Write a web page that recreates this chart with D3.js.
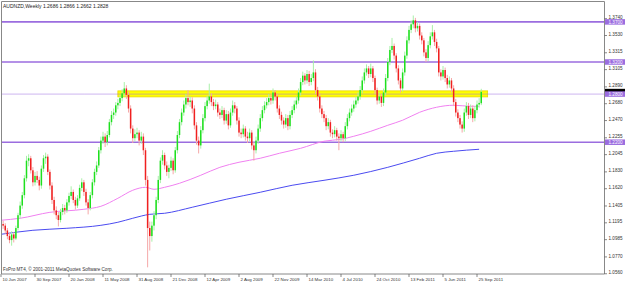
<!DOCTYPE html>
<html>
<head>
<meta charset="utf-8">
<title>AUDNZD weekly</title>
<script src="https://cdn.jsdelivr.net/npm/d3@7"></script>
<style>
body{margin:0;background:#fff;}
svg text{font-family:"Liberation Sans",Arial,sans-serif;}
</style>
</head>
<body>
<div id="chart"></div>
<script>
// weekly bars, first bar = week of 10 Jun 2007, [open, high, low, close]
var candles = [
[1.121,1.126,1.114,1.118],[1.118,1.122,1.112,1.116],[1.116,1.119,1.106,1.110],[1.110,1.113,1.099,1.103],
[1.103,1.107,1.094,1.098],[1.098,1.109,1.091,1.105],[1.105,1.108,1.095,1.100],[1.100,1.116,1.098,1.113],
[1.113,1.132,1.110,1.129],[1.129,1.146,1.125,1.141],[1.141,1.158,1.137,1.154],[1.154,1.179,1.150,1.175],
[1.175,1.203,1.171,1.197],[1.197,1.205,1.190,1.200],[1.200,1.203,1.181,1.185],[1.185,1.189,1.165,1.170],
[1.170,1.183,1.166,1.178],[1.178,1.184,1.169,1.173],[1.173,1.177,1.160,1.166],[1.166,1.191,1.162,1.187],
[1.187,1.204,1.183,1.200],[1.200,1.207,1.193,1.202],[1.202,1.205,1.179,1.183],[1.183,1.186,1.161,1.166],
[1.166,1.170,1.143,1.148],[1.148,1.152,1.130,1.135],[1.135,1.140,1.124,1.129],[1.129,1.133,1.115,1.123],
[1.123,1.137,1.120,1.133],[1.133,1.143,1.129,1.138],[1.138,1.142,1.130,1.135],[1.135,1.149,1.132,1.145],
[1.145,1.157,1.141,1.153],[1.153,1.165,1.149,1.158],[1.158,1.161,1.144,1.148],[1.148,1.152,1.136,1.141],
[1.141,1.154,1.138,1.150],[1.150,1.167,1.147,1.163],[1.163,1.175,1.159,1.170],[1.170,1.173,1.153,1.158],
[1.158,1.162,1.141,1.145],[1.145,1.149,1.130,1.138],[1.138,1.158,1.135,1.154],[1.154,1.174,1.150,1.170],
[1.170,1.187,1.166,1.183],[1.183,1.196,1.179,1.191],[1.191,1.214,1.188,1.210],[1.210,1.227,1.206,1.222],
[1.222,1.233,1.218,1.227],[1.227,1.231,1.214,1.220],[1.220,1.234,1.216,1.229],[1.229,1.249,1.226,1.245],
[1.245,1.259,1.241,1.254],[1.254,1.262,1.249,1.257],[1.257,1.270,1.253,1.266],[1.266,1.274,1.261,1.269],
[1.269,1.279,1.265,1.275],[1.275,1.286,1.271,1.281],[1.281,1.295,1.277,1.287],[1.287,1.291,1.274,1.279],
[1.279,1.283,1.257,1.262],[1.262,1.266,1.231,1.237],[1.237,1.241,1.219,1.225],[1.225,1.236,1.221,1.230],
[1.230,1.238,1.225,1.232],[1.232,1.235,1.216,1.222],[1.222,1.233,1.218,1.227],[1.227,1.231,1.204,1.210],
[1.210,1.213,1.166,1.173],[1.173,1.178,1.064,1.113],[1.113,1.121,1.085,1.103],[1.103,1.121,1.096,1.116],
[1.116,1.134,1.110,1.129],[1.129,1.152,1.124,1.148],[1.148,1.178,1.144,1.173],[1.173,1.201,1.169,1.197],
[1.197,1.210,1.192,1.204],[1.204,1.207,1.186,1.191],[1.191,1.196,1.178,1.183],[1.183,1.192,1.175,1.188],
[1.188,1.202,1.184,1.197],[1.197,1.200,1.180,1.185],[1.185,1.214,1.182,1.210],[1.210,1.234,1.206,1.229],
[1.229,1.249,1.225,1.245],[1.245,1.262,1.241,1.257],[1.257,1.272,1.253,1.267],[1.267,1.280,1.262,1.275],
[1.275,1.285,1.266,1.270],[1.270,1.277,1.264,1.272],[1.272,1.276,1.256,1.262],[1.262,1.266,1.236,1.241],
[1.241,1.245,1.217,1.222],[1.222,1.227,1.206,1.216],[1.216,1.240,1.212,1.235],[1.235,1.255,1.231,1.250],
[1.250,1.270,1.246,1.265],[1.265,1.278,1.261,1.272],[1.272,1.293,1.268,1.277],[1.277,1.281,1.265,1.270],
[1.270,1.274,1.260,1.265],[1.265,1.273,1.261,1.267],[1.267,1.270,1.252,1.257],[1.257,1.262,1.249,1.254],
[1.254,1.265,1.250,1.260],[1.260,1.263,1.242,1.247],[1.247,1.260,1.243,1.255],[1.255,1.259,1.236,1.241],
[1.241,1.262,1.238,1.257],[1.257,1.272,1.253,1.266],[1.266,1.270,1.256,1.262],[1.262,1.265,1.242,1.247],
[1.247,1.251,1.227,1.232],[1.232,1.237,1.225,1.230],[1.230,1.242,1.226,1.237],[1.237,1.240,1.222,1.227],
[1.227,1.233,1.219,1.225],[1.225,1.237,1.221,1.232],[1.232,1.235,1.211,1.216],[1.216,1.220,1.197,1.210],
[1.210,1.227,1.206,1.222],[1.222,1.242,1.218,1.237],[1.237,1.255,1.233,1.250],[1.250,1.265,1.246,1.260],
[1.260,1.271,1.256,1.266],[1.266,1.275,1.262,1.270],[1.270,1.280,1.266,1.275],[1.275,1.279,1.267,1.272],
[1.272,1.287,1.268,1.282],[1.282,1.285,1.272,1.277],[1.277,1.280,1.257,1.262],[1.262,1.266,1.249,1.254],
[1.254,1.258,1.242,1.247],[1.247,1.251,1.237,1.242],[1.242,1.255,1.238,1.250],[1.250,1.254,1.235,1.240],
[1.240,1.259,1.236,1.254],[1.254,1.265,1.250,1.260],[1.260,1.272,1.256,1.267],[1.267,1.277,1.262,1.272],
[1.272,1.287,1.268,1.282],[1.282,1.300,1.278,1.295],[1.295,1.308,1.291,1.303],[1.303,1.306,1.292,1.297],
[1.297,1.310,1.293,1.305],[1.305,1.309,1.290,1.295],[1.295,1.305,1.291,1.300],[1.300,1.322,1.296,1.307],
[1.307,1.311,1.280,1.285],[1.285,1.289,1.272,1.277],[1.277,1.281,1.257,1.262],[1.262,1.266,1.250,1.255],
[1.255,1.259,1.245,1.250],[1.250,1.254,1.235,1.240],[1.240,1.250,1.236,1.245],[1.245,1.248,1.227,1.232],
[1.232,1.236,1.225,1.230],[1.230,1.240,1.226,1.235],[1.235,1.238,1.222,1.227],[1.227,1.231,1.210,1.225],
[1.225,1.235,1.221,1.230],[1.230,1.233,1.220,1.225],[1.225,1.245,1.221,1.240],[1.240,1.255,1.236,1.250],
[1.250,1.262,1.246,1.257],[1.257,1.267,1.253,1.262],[1.262,1.272,1.258,1.267],[1.267,1.277,1.263,1.272],
[1.272,1.282,1.268,1.277],[1.277,1.290,1.273,1.285],[1.285,1.302,1.281,1.297],[1.297,1.312,1.293,1.307],
[1.307,1.317,1.303,1.312],[1.312,1.315,1.300,1.305],[1.305,1.318,1.301,1.312],[1.312,1.315,1.295,1.300],
[1.300,1.303,1.280,1.285],[1.285,1.288,1.267,1.272],[1.272,1.282,1.268,1.277],[1.277,1.280,1.264,1.269],
[1.269,1.287,1.265,1.282],[1.282,1.305,1.278,1.300],[1.300,1.325,1.296,1.320],[1.320,1.340,1.316,1.335],
[1.335,1.350,1.331,1.340],[1.340,1.343,1.323,1.328],[1.328,1.331,1.307,1.312],[1.312,1.316,1.292,1.297],
[1.297,1.300,1.282,1.287],[1.287,1.312,1.283,1.307],[1.307,1.333,1.303,1.328],[1.328,1.352,1.324,1.347],
[1.347,1.365,1.343,1.360],[1.360,1.372,1.356,1.367],[1.367,1.378,1.362,1.372],[1.372,1.375,1.357,1.362],
[1.362,1.370,1.358,1.365],[1.365,1.368,1.348,1.353],[1.353,1.357,1.342,1.347],[1.347,1.350,1.327,1.332],
[1.332,1.336,1.320,1.325],[1.325,1.346,1.321,1.341],[1.341,1.357,1.337,1.352],[1.352,1.366,1.348,1.357],
[1.357,1.360,1.340,1.345],[1.345,1.349,1.332,1.337],[1.337,1.340,1.302,1.307],[1.307,1.311,1.297,1.302],
[1.302,1.315,1.298,1.310],[1.310,1.313,1.295,1.300],[1.300,1.304,1.287,1.292],[1.292,1.302,1.288,1.297],
[1.297,1.300,1.282,1.287],[1.287,1.291,1.265,1.270],[1.270,1.274,1.252,1.257],[1.257,1.261,1.245,1.250],
[1.250,1.254,1.237,1.242],[1.242,1.246,1.232,1.237],[1.237,1.262,1.233,1.257],[1.257,1.270,1.253,1.265],
[1.265,1.269,1.249,1.254],[1.254,1.267,1.250,1.262],[1.262,1.266,1.245,1.250],[1.250,1.265,1.246,1.260],
[1.260,1.272,1.256,1.267],[1.267,1.275,1.263,1.269],[1.2686,1.2866,1.2662,1.2828]
];

// moving averages: [bar index, value]
var maPink = [[0,1.1227],[9,1.1252],[23,1.1326],[39,1.1364],[47,1.1401],[55,1.1501],[62,1.1601],[68,1.1638],
  [72,1.1613],[77,1.1638],[84,1.1688],[94,1.1788],[103,1.1887],[112,1.1950],[122,1.2000],[131,1.2062],
  [141,1.2124],[152,1.2212],[160,1.2237],[166,1.2274],[174,1.2336],[182,1.2411],[189,1.2474],[197,1.2573],
  [205,1.2636],[213,1.2661],[221,1.2648],[225,1.2648]];
var maBlue = [[0,1.1052],[15,1.1102],[31,1.1127],[47,1.1164],[55,1.1202],[62,1.1252],[70,1.1301],[77,1.1314],
  [90,1.1389],[106,1.1489],[122,1.1576],[137,1.1663],[152,1.1725],[166,1.1788],[182,1.1887],[197,1.2000],
  [205,1.2062],[213,1.2087],[225,1.2112]];

var levels = [1.3700, 1.3200, 1.2800, 1.2200];
var dottedLevel = 1.2800;
var zone = {from:"29 Jun 2008", to:"30 Oct 2011", top:1.2840, bottom:1.2765};
var bid = 1.2828;

var priceTicks = [1.3740,1.3530,1.3315,1.3105,1.2890,1.2680,1.2470,1.2255,1.2045,1.1830,1.1620,1.1405,1.1195,1.0985,1.0770,1.0560];
var dateTicks = ["10 Jun 2007","30 Sep 2007","20 Jan 2008","11 May 2008","31 Aug 2008","21 Dec 2008","12 Apr 2009",
  "2 Aug 2009","22 Nov 2009","14 Mar 2010","4 Jul 2010","24 Oct 2010","13 Feb 2011","5 Jun 2011","25 Sep 2011"];

var title = "AUDNZD,Weekly  1.2686 1.2866 1.2662 1.2828";
var copy = "FxPro MT4, \u00a9 2001-2011 MetaQuotes Software Corp.";

var W = 625, H = 283;
var plot = {left:1.5, top:1.5, right:604.5, bottom:274};

var parse = d3.utcParse("%d %b %Y");
var fmtDate = d3.utcFormat("%-d %b %Y");
var start = parse(dateTicks[0]);
function barDate(i){ return d3.utcWeek.offset(start, i); }

var x = d3.scaleUtc().domain([start, parse(dateTicks[dateTicks.length-1])]).range([1, 477]);
var y = d3.scaleLinear().domain([1.0557, 1.3948]).range([274, 2]);

var svg = d3.select("#chart").append("svg")
  .attr("width", W)
  .attr("height", H);

svg.append("rect").attr("width",W).attr("height",H).attr("fill","#fff");

var defs = svg.append("defs");
defs.append("clipPath").attr("id","clip")
  .append("rect")
  .attr("x", plot.left).attr("y", plot.top)
  .attr("width", plot.right-plot.left).attr("height", plot.bottom-plot.top);

var g = svg.append("g").attr("clip-path","url(#clip)");

// yellow zone
g.append("rect")
  .attr("x", x(parse(zone.from)))
  .attr("width", x(parse(zone.to)) - x(parse(zone.from)))
  .attr("y", y(zone.top))
  .attr("height", y(zone.bottom) - y(zone.top))
  .attr("fill", "#ffff00")
  .attr("stroke", "#e8d800")
  .attr("stroke-width", 0.8);

// horizontal levels
g.selectAll(".lvl").data(levels).enter().append("line")
  .attr("class","lvl")
  .attr("x1", plot.left).attr("x2", plot.right)
  .attr("y1", function(d){ return y(d); })
  .attr("y2", function(d){ return y(d); })
  .attr("stroke", "#9b6ddf")
  .attr("stroke-width", function(d){ return d==dottedLevel ? 1 : 1.6; })
  .attr("stroke-dasharray", function(d){ return d==dottedLevel ? "1,1" : null; });

// moving averages
var maLine = d3.line()
  .x(function(d){ return x(barDate(d[0])); })
  .y(function(d){ return y(d[1]); })
  .curve(d3.curveMonotoneX);

g.append("path").datum(maBlue)
  .attr("d", maLine).attr("fill","none")
  .attr("stroke","#4b4bf0").attr("stroke-width",1);
g.append("path").datum(maPink)
  .attr("d", maLine).attr("fill","none")
  .attr("stroke","#f080f0").attr("stroke-width",1);

// candles
var bars = g.selectAll(".bar").data(candles).enter().append("g").attr("class","bar");
bars.append("line")
  .attr("x1", function(d,i){ return x(barDate(i)); })
  .attr("x2", function(d,i){ return x(barDate(i)); })
  .attr("y1", function(d){ return y(d[1]); })
  .attr("y2", function(d){ return y(d[2]); })
  .attr("stroke", function(d){ return d[3] >= d[0] ? "#a8f0a8" : "#f5a8a8"; })
  .attr("stroke-width", 1);
bars.append("rect")
  .attr("x", function(d,i){ return x(barDate(i)) - 0.75; })
  .attr("width", 1.5)
  .attr("y", function(d){ return y(Math.max(d[0],d[3])); })
  .attr("height", function(d){ return Math.max(0.8, Math.abs(y(d[0]) - y(d[3]))); })
  .attr("fill", function(d){ return d[3] >= d[0] ? "#1ee01e" : "#f02020"; });

// frame
svg.append("path")
  .attr("d", "M"+plot.left+","+plot.bottom+"V"+plot.top+"H"+plot.right+"V"+plot.bottom+"H"+plot.left)
  .attr("fill","none")
  .attr("stroke","#888")
  .attr("stroke-width",1);

// price axis
var yAxis = svg.append("g").attr("class","yax");
yAxis.selectAll("line").data(priceTicks).enter().append("line")
  .attr("x1", plot.right).attr("x2", plot.right+2.5)
  .attr("y1", function(d){ return y(d); })
  .attr("y2", function(d){ return y(d); })
  .attr("stroke","#555").attr("stroke-width",0.7);
yAxis.selectAll("text").data(priceTicks).enter().append("text")
  .attr("x", plot.right+4)
  .attr("y", function(d){ return y(d) - 1; })
  .attr("dy","0.35em")
  .attr("font-size", 4.6)
  .attr("fill","#333")
  .text(d3.format(".4f"));

// bid marker (mostly covered by the 1.2800 label, as in MT4)
svg.append("rect")
  .attr("x", plot.right+0.5).attr("y", y(bid)-3)
  .attr("width", 20).attr("height", 5.5)
  .attr("fill","#000");

var lvlLab = svg.selectAll(".lvlLab").data(levels).enter().append("g").attr("class","lvlLab");
lvlLab.append("rect")
  .attr("x", plot.right+0.5)
  .attr("y", function(d){ return y(d)-2.75; })
  .attr("width", 20).attr("height", 5.5)
  .attr("fill","#9b6ddf");
lvlLab.append("text")
  .attr("x", plot.right+4)
  .attr("y", function(d){ return y(d); })
  .attr("dy","0.35em")
  .attr("font-size", 4.6)
  .attr("fill","#fff")
  .text(d3.format(".4f"));

// date axis
var xAxis = svg.append("g").attr("class","xax");
xAxis.selectAll("line").data(dateTicks).enter().append("line")
  .attr("x1", function(d){ return x(parse(d)); })
  .attr("x2", function(d){ return x(parse(d)); })
  .attr("y1", plot.bottom).attr("y2", plot.bottom+3)
  .attr("stroke","#555").attr("stroke-width",0.7);
xAxis.selectAll("text").data(dateTicks).enter().append("text")
  .attr("x", function(d){ return x(parse(d)) + 1.5; })
  .attr("y", 280.5)
  .attr("font-size", 4.4)
  .attr("fill","#333")
  .text(function(d){ return fmtDate(parse(d)); });

svg.append("text")
  .attr("x", 3).attr("y", 8)
  .attr("font-size", 5)
  .attr("fill","#222")
  .text(title);
svg.append("text")
  .attr("x", 3).attr("y", 271)
  .attr("font-size", 4.6)
  .attr("fill","#333")
  .text(copy);
</script>
</body>
</html>
